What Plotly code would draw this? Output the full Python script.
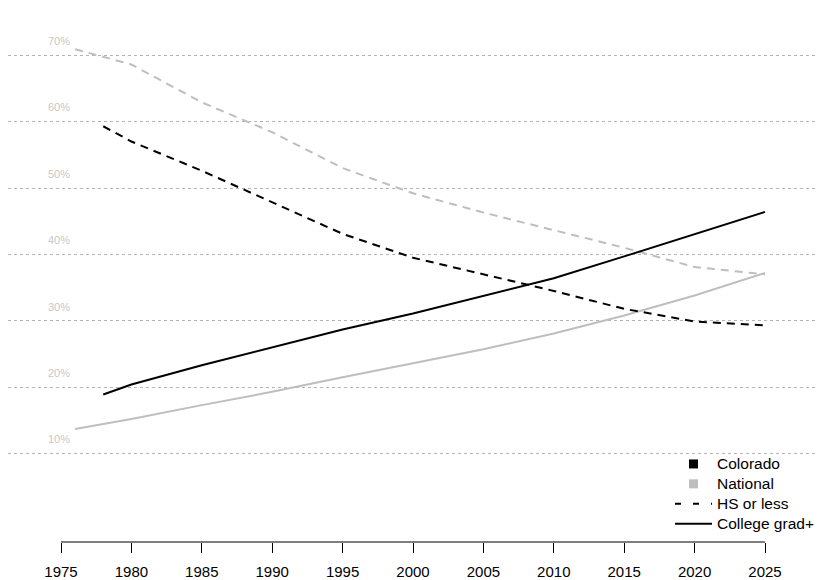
import plotly.graph_objects as go

# ---- data (percent) ----
nat_years = [1976, 1980, 1985, 1990, 1995, 2000, 2005, 2010, 2015, 2020, 2025]
nat_college = [13.7, 15.2, 17.3, 19.3, 21.5, 23.6, 25.7, 28.1, 30.8, 33.8, 37.2]
nat_hs = [70.9, 68.6, 62.9, 58.4, 53.0, 49.2, 46.3, 43.7, 41.0, 38.1, 37.0]

col_years = [1978, 1980, 1985, 1990, 1995, 2000, 2005, 2010, 2015, 2020, 2025]
col_college = [18.9, 20.4, 23.3, 26.0, 28.7, 31.1, 33.7, 36.4, 39.7, 43.0, 46.4]
col_hs = [59.3, 57.0, 52.6, 47.8, 43.1, 39.5, 37.0, 34.5, 31.8, 29.9, 29.3]

x_ticks = [1975, 1980, 1985, 1990, 1995, 2000, 2005, 2010, 2015, 2020, 2025]
y_ticks = [10, 20, 30, 40, 50, 60, 70]
y_labels = [f"{v}%" for v in y_ticks]
legend_names = ["Colorado", "National", "HS or less", "College grad+"]

BLACK = "#000000"
GRAY = "#bebebe"
DASH = "8px,6px"

def lname(s):
    return f"<span style='font-size:15.5px'>{s}</span>"

fig = go.Figure()

fig.add_trace(go.Scatter(x=nat_years, y=nat_hs, mode="lines", showlegend=False,
                         line=dict(color=GRAY, width=2, dash=DASH)))
fig.add_trace(go.Scatter(x=nat_years, y=nat_college, mode="lines", showlegend=False,
                         line=dict(color=GRAY, width=2)))
fig.add_trace(go.Scatter(x=col_years, y=col_hs, mode="lines", showlegend=False,
                         line=dict(color=BLACK, width=2, dash=DASH)))
fig.add_trace(go.Scatter(x=col_years, y=col_college, mode="lines", showlegend=False,
                         line=dict(color=BLACK, width=2)))

# legend entries
fig.add_trace(go.Scatter(x=[None], y=[None], mode="markers", name=lname(legend_names[0]),
                         marker=dict(symbol="square", size=9, color=BLACK)))
fig.add_trace(go.Scatter(x=[None], y=[None], mode="markers", name=lname(legend_names[1]),
                         marker=dict(symbol="square", size=9, color=GRAY)))
fig.add_trace(go.Scatter(x=[None], y=[None], mode="lines", name=lname(legend_names[2]),
                         line=dict(color=BLACK, width=2, dash="6px,12px")))
fig.add_trace(go.Scatter(x=[None], y=[None], mode="lines", name=lname(legend_names[3]),
                         line=dict(color=BLACK, width=2)))

W, H = 826, 580
OFF = 8  # page body margin offset
px_per_year = 704 / 50.0
x0 = 1975 - (61 - OFF) / px_per_year
x1 = 2025 + (W - (765 - OFF)) / px_per_year
px_per_pct = 6.64
zero_px = 520 - OFF
y_top = zero_px / px_per_pct
y_bot = (zero_px - H) / px_per_pct
axis_pos = (H - (542 - OFF)) / H

fig.add_shape(type="line", xref="x", yref="paper", x0=1975, x1=2025,
              y0=axis_pos, y1=axis_pos, line=dict(color=BLACK, width=1))

fig.update_layout(
    width=W, height=H,
    margin=dict(l=0, r=0, t=0, b=0),
    paper_bgcolor="white", plot_bgcolor="white",
    font=dict(family="Liberation Sans, Arial, sans-serif", color=BLACK),
    legend=dict(x=(670 - OFF) / W, y=1 - (449 - OFF) / H, xanchor="left", yanchor="top",
                font=dict(size=13, color=BLACK), bgcolor="rgba(0,0,0,0)",
                itemwidth=37, tracegroupgap=0),
    xaxis=dict(range=[x0, x1], showgrid=False, zeroline=False, showline=False,
               tickmode="array", tickvals=x_ticks, ticktext=[str(t) for t in x_ticks],
               ticks="outside", ticklen=10, tickcolor=BLACK, tickwidth=1,
               ticklabelstandoff=6,
               anchor="free", position=axis_pos,
               tickfont=dict(size=15, color=BLACK)),
    yaxis=dict(range=[y_bot, y_top], showgrid=True, gridcolor="#b4b4b4",
               griddash="dot", gridwidth=1, zeroline=False, showline=False,
               tickmode="array", tickvals=y_ticks, ticktext=y_labels,
               ticks="", anchor="free", position=(70 - OFF) / W,
               ticklabelstandoff=0, ticklabelshift=-14,
               tickfont=dict(size=11, color="#c8c8c8")),
)

fig.write_html("out.html")
